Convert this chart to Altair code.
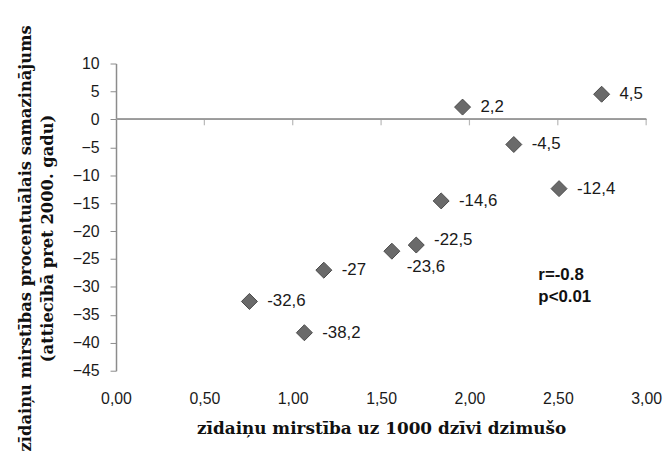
import altair as alt
import pandas as pd

# data
x_vals = [0.755, 1.066, 1.176, 1.561, 1.699, 1.840, 1.961, 2.251, 2.507, 2.748]
y_vals = [-32.6, -38.2, -27.0, -23.6, -22.5, -14.6, 2.2, -4.5, -12.4, 4.5]
labels = ["-32,6", "-38,2", "-27", "-23,6", "-22,5", "-14,6", "2,2", "-4,5", "-12,4", "4,5"]
x_ticks = [0.0, 0.5, 1.0, 1.5, 2.0, 2.5, 3.0]
y_ticks = [-45, -40, -35, -30, -25, -20, -15, -10, -5, 0, 5, 10]
stat_text = ["r=-0.8", "p<0.01"]
stat_x = [2.39, 2.39]
stat_y = [-27.9, -31.8]

x_title = "zīdaiņu mirstība uz 1000 dzīvi dzimušo"
y_title = ["zīdaiņu mirstības procentuālais samazinājums", "(attiecībā pret 2000. gadu)"]

df = pd.DataFrame({"x": x_vals, "y": y_vals, "label": labels})
ticks_df = pd.DataFrame({"x": x_ticks[1:], "y": [0] * (len(x_ticks) - 1)})
stat_df = pd.DataFrame({"x": stat_x, "y": stat_y, "t": stat_text})

xs = alt.Scale(domain=[0, 3], nice=False, zero=False)
ys = alt.Scale(domain=[-45, 10], nice=False, zero=False)

LABEL_FONT = "Liberation Sans"
TITLE_FONT = "DejaVu Serif"

x_axis = alt.Axis(
    values=x_ticks, tickCount=len(x_ticks),
    labelExpr="replace(format(datum.value, '.2f'), '.', ',')",
    domain=False, ticks=False, tickSize=0, grid=False, labelPadding=20,
    labelFlush=False, labelOverlap=False,
    labelFont=LABEL_FONT, labelFontSize=16, labelColor="#1a1a1a",
    title=x_title, titleFont=TITLE_FONT, titleFontSize=17, titleFontWeight="bold",
    titleColor="#111111", titleY=58, titleBaseline="middle",
)
y_axis = alt.Axis(
    values=y_ticks, tickCount=len(y_ticks),
    domainColor="#8c8c8c", tickColor="#8c8c8c", tickSize=6,
    domainWidth=1.5, grid=False, labelPadding=11,
    labelFlush=False, labelOverlap=False,
    labelFont=LABEL_FONT, labelFontSize=16, labelColor="#1a1a1a",
    title=y_title, titleFont=TITLE_FONT, titleFontSize=16.5, titleFontWeight="bold",
    titleColor="#111111", titleAngle=270, titleX=-91, titleY=176,
    titleAlign="center", titleBaseline="middle", titleLineHeight=22,
)

X = alt.X("x:Q", scale=xs, axis=x_axis)
Y = alt.Y("y:Q", scale=ys, axis=y_axis)

points = alt.Chart(df).mark_point(
    shape="diamond", filled=True, fill="#6a6a6a", stroke="#4a4a4a",
    strokeWidth=1, opacity=1, size=260,
).encode(x=X, y=Y)

zero_line = alt.Chart(df).mark_rule(color="#9a9a9a", strokeWidth=1.5).encode(
    x=alt.datum(0), x2=alt.datum(3), y=alt.datum(0)
)

tick_marks = alt.Chart(ticks_df).mark_tick(
    orient="vertical", color="#9a9a9a", size=6, thickness=1.2, yOffset=3
).encode(x=X, y=Y)

text_common = dict(align="left", baseline="middle", font=LABEL_FONT, fontSize=17, color="#1a1a1a")

lbl_main = alt.Chart(df).transform_filter(
    "datum.label != '-22,5' && datum.label != '-23,6'"
).mark_text(dx=18, **text_common).encode(x=X, y=Y, text="label:N")
lbl_above = alt.Chart(df).transform_filter("datum.label == '-22,5'").mark_text(
    dx=18, dy=-5, **text_common
).encode(x=X, y=Y, text="label:N")
lbl_below = alt.Chart(df).transform_filter("datum.label == '-23,6'").mark_text(
    dx=15, dy=16, **text_common
).encode(x=X, y=Y, text="label:N")

stats = alt.Chart(stat_df).mark_text(
    align="left", baseline="middle", font="Liberation Sans", fontSize=17,
    fontWeight="bold", color="#111111",
).encode(x=X, y=Y, text="t:N")

chart = alt.layer(
    zero_line, tick_marks, points, lbl_main, lbl_above, lbl_below, stats
).properties(
    width=535, height=310,
    autosize=alt.AutoSizeParams(type="none"),
    padding={"left": 109, "top": 54, "right": 18, "bottom": 80},
    background="white",
).configure_view(stroke=None)

chart.save("out.html", embed_options={"renderer": "svg", "actions": False})
